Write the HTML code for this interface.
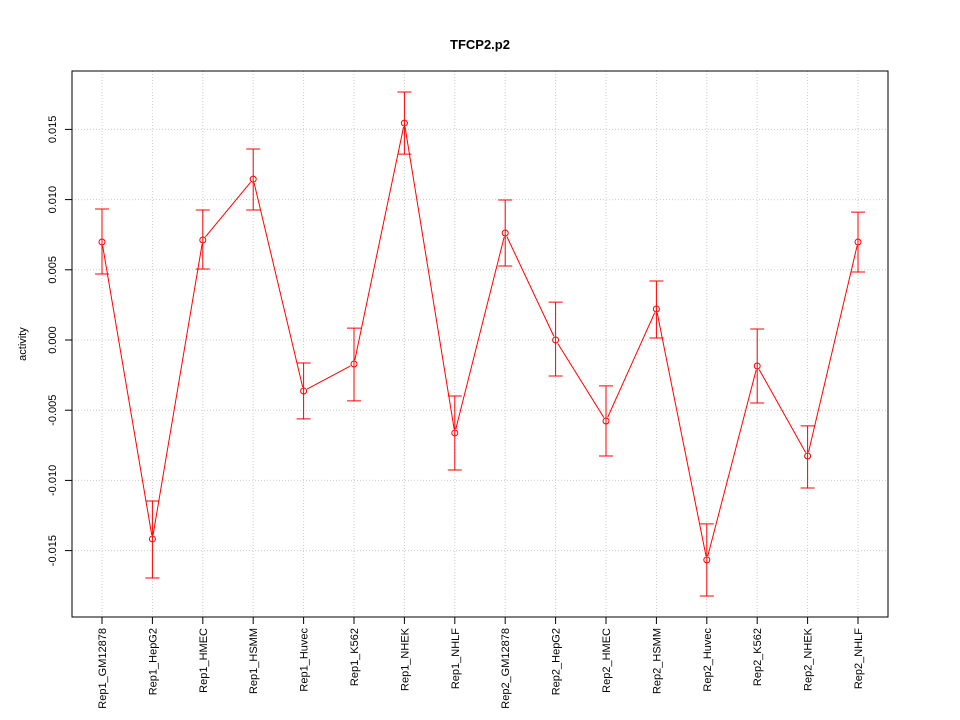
<!DOCTYPE html>
<html><head><meta charset="utf-8"><style>
body{margin:0;background:#fff;}
svg{display:block;font-family:"Liberation Sans",sans-serif;}
</style></head><body>
<svg id="chart" width="960" height="720">
<text x="480" y="49" text-anchor="middle" font-size="13" font-weight="bold">TFCP2.p2</text>
<text transform="translate(26,344) rotate(-90)" text-anchor="middle" font-size="11">activity</text>
<g id="grid"></g><g id="axes"></g><g id="marks"></g>
<rect x="72" y="71" width="816" height="546" fill="none" stroke="#000"/>
</svg>
<script>
const categories=["Rep1_GM12878","Rep1_HepG2","Rep1_HMEC","Rep1_HSMM","Rep1_Huvec","Rep1_K562","Rep1_NHEK","Rep1_NHLF","Rep2_GM12878","Rep2_HepG2","Rep2_HMEC","Rep2_HSMM","Rep2_Huvec","Rep2_K562","Rep2_NHEK","Rep2_NHLF"];
const values=[0.00698,-0.01417,0.00712,0.01146,-0.00363,-0.00171,0.01545,-0.00662,0.00762,0.0,-0.00577,0.00221,-0.01566,-0.00185,-0.00826,0.00698];
const upper=[0.00933,-0.01147,0.00926,0.0136,-0.00164,0.00085,0.01766,-0.00399,0.00997,0.0027,-0.00327,0.0042,-0.0131,0.00078,-0.00612,0.00911];
const lower=[0.0047,-0.01695,0.00506,0.00926,-0.00562,-0.00434,0.01324,-0.00926,0.00527,-0.00256,-0.00826,0.00014,-0.01823,-0.00449,-0.01054,0.00484];
const yTicks=[-0.015,-0.010,-0.005,0.000,0.005,0.010,0.015];
const yTickLabels=["-0.015","-0.010","-0.005","0.000","0.005","0.010","0.015"];
const NS="http://www.w3.org/2000/svg";
const x=i=>102+i*(858-102)/(categories.length-1);
const y=v=>340-v*14040;
function mk(parent,tag,attrs){const e=document.createElementNS(NS,tag);for(const k in attrs)e.setAttribute(k,attrs[k]);document.getElementById(parent).appendChild(e);return e;}
yTicks.forEach((t,i)=>{
 let g=mk('grid','line',{x1:72,x2:888,y1:y(t),y2:y(t),stroke:'#ccc','stroke-dasharray':'1,2'});
 
 
 let tk=mk('axes','line',{x1:65,x2:72,y1:y(t),y2:y(t),stroke:'#000'});
 
 
 let tl=mk('axes','text',{transform:`translate(56,${y(t)}) rotate(-90)`,'text-anchor':'middle','font-size':'11'});
 tl.textContent=yTickLabels[i];
 
 
});
categories.forEach((c,i)=>{
 let g=mk('grid','line',{x1:x(i),x2:x(i),y1:71,y2:617,stroke:'#ccc','stroke-dasharray':'1,2'});
 
 
 let tk=mk('axes','line',{x1:x(i),x2:x(i),y1:617,y2:624,stroke:'#000'});
 
 
 let tl=mk('axes','text',{transform:`translate(${x(i)+4},628) rotate(-90)`,'text-anchor':'end','font-size':'11'});
 tl.textContent=c;
 
 
});
const red='#ff0000';
for(let i=0;i<values.length-1;i++){
 const x1=x(i),y1=y(values[i]),x2=x(i+1),y2=y(values[i+1]);
 const d=Math.hypot(x2-x1,y2-y1),r=4;
 if(d<=2*r)continue;
 const ux=(x2-x1)/d,uy=(y2-y1)/d;
 let l=mk('marks','line',{x1:x1+ux*r,y1:y1+uy*r,x2:x2-ux*r,y2:y2-uy*r,stroke:red});
 
 
}
values.forEach((v,i)=>{
 const cx=x(i);
 let e=mk('marks','path',{d:`M${cx},${y(upper[i])}V${y(lower[i])}M${cx-7},${y(upper[i])}H${cx+7}M${cx-7},${y(lower[i])}H${cx+7}`,stroke:red,fill:'none'});
 
 
 let p=mk('marks','circle',{cx:cx,cy:y(v),r:3,stroke:red,fill:'none'});
 
 
});
</script>
</body></html>
